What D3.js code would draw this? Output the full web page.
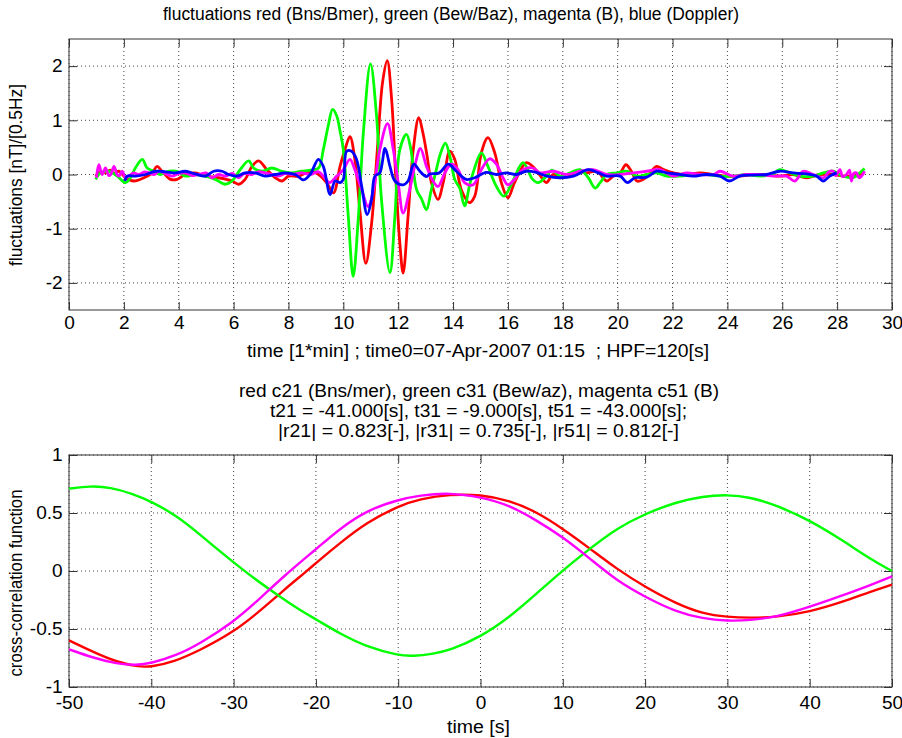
<!DOCTYPE html>
<html>
<head>
<meta charset="utf-8">
<script src="https://cdn.jsdelivr.net/npm/d3@7"></script>
<style>
  body { margin: 0; background: #fff; }
  svg text { font-family: "Liberation Sans", Arial, Helvetica, sans-serif; white-space: pre; }
</style>
</head>
<body>
<script>
// ---- top panel: fluctuations, [time in min, nT/0.5Hz] ----
const fluctRed = [[0.97,-0.03],[1.15,0.05],[1.33,0.03],[1.5,0.08],[1.65,0.02],[1.82,0.06],[2.06,-0.06],[2.36,-0.12],[2.73,-0.06],[3.03,0.03],[3.21,0.15],[3.39,0.06],[3.7,-0.09],[3.94,-0.09],[4.24,0],[4.6,0.03],[4.97,-0.03],[5.45,-0.06],[5.94,-0.12],[6.18,-0.18],[6.42,-0.09],[6.67,0.15],[6.91,0.25],[7.21,0.09],[7.52,-0.06],[7.76,-0.12],[8.0,-0.03],[8.36,-0.03],[8.6,0.02],[8.9,0.05],[9.1,0.0],[9.39,-0.15],[9.64,-0.34],[9.88,0.15],[10.06,0.46],[10.24,0.7],[10.42,0.28],[10.6,-0.65],[10.82,-1.64],[11.03,-0.9],[11.24,0.46],[11.43,1.7],[11.6,2.1],[11.76,1.39],[11.92,-0.15],[12.06,-1.27],[12.18,-1.82],[12.36,-0.77],[12.55,0.46],[12.75,1.05],[12.9,0.77],[13.05,0.35],[13.21,-0.15],[13.45,-0.46],[13.64,-0.15],[13.88,0.43],[14.06,0.28],[14.3,-0.28],[14.6,-0.52],[14.79,-0.4],[15.03,0.4],[15.27,0.68],[15.52,0.4],[15.76,-0.15],[16.0,-0.43],[16.24,-0.15],[16.67,0.22],[16.9,0.15],[17.15,0],[17.4,-0.15],[17.64,0],[17.9,-0.06],[18.15,-0.03],[18.5,0.06],[18.87,0.03],[19.24,0.06],[19.6,-0.12],[19.84,-0.03],[20.09,0.03],[20.3,0.18],[20.5,0.06],[20.7,-0.12],[20.94,-0.09],[21.18,0.03],[21.42,0.15],[21.67,0.09],[22.03,0.03],[22.5,0],[23.0,0.03],[23.5,0],[23.97,-0.03],[24.45,-0.03],[24.94,0],[25.43,0],[25.9,-0.03],[26.4,0],[26.88,-0.06],[27.37,0],[27.85,0],[28.34,-0.03],[28.83,0],[28.95,0.03]];

const fluctGreen = [[0.97,-0.09],[1.15,0.03],[1.45,0.06],[1.76,-0.03],[2.06,-0.15],[2.24,-0.06],[2.42,0.12],[2.67,0.28],[2.85,0.12],[3.09,0.06],[3.33,0],[3.64,0.06],[3.94,0.06],[4.24,-0.03],[4.6,0],[4.97,-0.03],[5.33,-0.09],[5.7,-0.18],[5.94,-0.12],[6.24,0.09],[6.55,0.25],[6.73,0.12],[7.03,0.06],[7.39,0.12],[7.76,0.06],[8.12,0.03],[8.48,0.06],[8.8,0.08],[9.1,0.12],[9.27,0.46],[9.45,0.9],[9.61,1.2],[9.76,1.08],[9.88,0.8],[10.0,0.46],[10.18,-0.77],[10.36,-1.88],[10.55,-0.77],[10.73,0.77],[10.99,2.04],[11.21,1.08],[11.39,-0.46],[11.7,-1.81],[11.88,-0.77],[12.06,0.46],[12.3,0.74],[12.45,0.5],[12.67,-0.28],[12.85,-0.45],[13.03,-0.65],[13.2,-0.3],[13.39,0.09],[13.55,0.4],[13.72,0.58],[13.9,0.3],[14.06,-0.09],[14.24,-0.25],[14.42,-0.58],[14.6,-0.2],[14.73,0.03],[15.03,0.4],[15.27,0.15],[15.58,-0.22],[15.85,-0.4],[16.18,-0.12],[16.55,0.22],[16.9,-0.09],[17.1,-0.15],[17.4,-0.03],[17.6,0.08],[17.9,-0.03],[18.27,0.03],[18.63,0.09],[18.93,-0.06],[19.18,-0.25],[19.36,-0.15],[19.6,0],[19.97,0.03],[20.33,0.06],[20.7,-0.03],[21.06,0],[21.42,0.03],[21.79,-0.03],[22.27,-0.03],[22.76,0],[23.24,0],[23.73,-0.03],[24.2,-0.03],[24.7,0],[25.2,-0.03],[25.67,0.01],[25.9,0.09],[26.28,0.03],[26.64,-0.03],[27.13,-0.03],[27.5,0.03],[27.85,0.06],[28.2,-0.03],[28.58,-0.06],[28.89,0.06],[29.0,0.11]];

const fluctMagenta = [[1.0,-0.06],[1.09,0.18],[1.21,0.0],[1.33,0.12],[1.45,-0.02],[1.52,0.0],[1.64,0.15],[1.75,0.0],[1.82,-0.03],[1.94,0.06],[2.05,-0.05],[2.18,-0.03],[2.35,0.03],[2.55,0],[2.75,0.05],[2.91,0.03],[3.1,0.0],[3.27,0.06],[3.5,0.02],[3.76,-0.03],[4.0,0.02],[4.24,0.03],[4.5,-0.02],[4.73,0],[5.0,0.03],[5.21,-0.06],[5.45,0.0],[5.7,-0.03],[5.95,0.02],[6.18,-0.06],[6.4,0.02],[6.67,0],[6.9,0.05],[7.15,0.03],[7.4,0.0],[7.64,-0.03],[7.9,0.02],[8.12,0],[8.48,0.03],[8.8,0.0],[9.1,0.05],[9.3,-0.05],[9.5,-0.15],[9.76,-0.03],[10.0,0.09],[10.24,0.28],[10.42,0.09],[10.67,-0.28],[10.9,-0.59],[11.1,-0.28],[11.33,0.46],[11.61,0.94],[11.82,0.46],[12.0,-0.15],[12.18,-0.71],[12.42,-0.28],[12.6,0.15],[12.81,0.48],[13.03,0.15],[13.27,-0.12],[13.45,-0.22],[13.7,0.03],[13.94,0.19],[14.18,0.09],[14.42,-0.15],[14.73,-0.19],[15.03,0.09],[15.33,0.29],[15.58,0.19],[15.82,-0.06],[16.0,-0.19],[16.24,-0.09],[16.55,0.09],[16.9,0.12],[17.17,0.03],[17.66,0.06],[18.15,0],[18.63,0.06],[19.1,0.09],[19.6,0],[20.09,0],[20.57,0.03],[21.06,0.06],[21.54,0.09],[22.03,-0.03],[22.5,0.03],[23.0,0],[23.5,0],[23.73,0.06],[24.2,-0.03],[24.7,0],[25.2,0],[25.67,-0.03],[26.15,-0.03],[26.46,-0.12],[26.76,0.06],[27.13,0],[27.5,-0.06],[27.7,0.05],[27.85,0.06],[27.95,-0.02],[28.1,0.09],[28.2,-0.04],[28.34,0],[28.45,0.08],[28.52,-0.12],[28.6,0.02],[28.7,0.03],[28.8,-0.06],[28.89,-0.03],[29.0,0.06]];

const fluctBlue = [[2.04,-0.12],[2.12,-0.03],[2.42,-0.03],[2.79,0],[3.15,0.06],[3.52,0.05],[3.88,0.03],[4.24,0.06],[4.6,0.01],[4.97,-0.03],[5.27,0.06],[5.58,0.06],[5.82,0],[6.12,-0.03],[6.42,0.03],[6.79,0.03],[7.15,-0.03],[7.52,0],[7.88,0.03],[8.24,0],[8.55,-0.1],[8.79,0],[9.09,0.28],[9.27,0.15],[9.52,-0.37],[9.7,-0.12],[9.88,-0.15],[10.0,-0.09],[10.12,0.43],[10.3,0.43],[10.48,0.28],[10.67,-0.22],[10.87,-0.74],[11.03,-0.46],[11.15,-0.03],[11.33,0.03],[11.52,0.48],[11.7,0.15],[11.88,-0.12],[12.18,-0.19],[12.36,-0.12],[12.57,0.19],[12.79,0.06],[13.03,-0.04],[13.15,0.01],[13.5,0.03],[13.82,0.19],[14.12,0.06],[14.48,-0.09],[14.79,-0.06],[15.2,0.04],[15.58,0],[15.94,0.03],[16.3,0],[16.67,0.06],[17.03,0.04],[17.42,-0.03],[17.9,-0.06],[18.39,-0.03],[18.93,0.09],[19.3,0.03],[19.6,-0.03],[20.09,-0.03],[20.35,-0.15],[20.63,-0.06],[21.06,-0.05],[21.42,0.06],[21.79,0.03],[22.27,0],[22.76,-0.03],[23.24,0],[23.73,-0.03],[24.07,-0.12],[24.45,-0.03],[24.94,-0.01],[25.43,0],[25.9,0.06],[26.4,0.03],[26.88,0.01],[27.25,-0.03],[27.5,-0.12],[27.73,-0.03],[27.98,0.03]];

const topXTicks = d3.range(0, 31, 2);
const topYTicks = [-2, -1, 0, 1, 2];

// ---- bottom panel: cross-correlation, [lag s, value] ----
const ccRed = [[-50,-0.598],[-47,-0.70],[-44.2,-0.785],[-41.4,-0.828],[-40,-0.825],[-37.3,-0.785],[-34.1,-0.684],[-30,-0.526],[-26.8,-0.345],[-24,-0.17],[-21.1,0.0],[-19.9,0.075],[-17.1,0.24],[-13.8,0.42],[-10,0.56],[-7.4,0.62],[-3.7,0.661],[0,0.658],[3.56,0.609],[6.8,0.509],[10,0.365],[13.3,0.193],[16.5,0.02],[20,-0.138],[23.8,-0.282],[27,-0.368],[30,-0.397],[32.7,-0.405],[36,-0.397],[40,-0.353],[44,-0.267],[47.3,-0.181],[50,-0.118]];
const ccGreen = [[-50,0.71],[-47.4,0.733],[-45,0.722],[-42.2,0.665],[-40,0.600],[-36.9,0.475],[-34.1,0.315],[-32.1,0.195],[-30,0.075],[-27.6,-0.06],[-24.8,-0.2],[-21.9,-0.34],[-19.9,-0.42],[-17.1,-0.54],[-13.8,-0.655],[-10,-0.727],[-8.2,-0.735],[-5.7,-0.713],[-3.7,-0.684],[0,-0.569],[3.56,-0.397],[6.8,-0.195],[10,0.006],[13.3,0.193],[16.5,0.365],[20,0.494],[23.8,0.595],[27,0.644],[30,0.658],[32.7,0.638],[36,0.566],[40,0.437],[44,0.264],[47.3,0.106],[50,0]];
const ccMagenta = [[-50,-0.675],[-47,-0.75],[-44.2,-0.80],[-41.8,-0.813],[-40,-0.795],[-36.9,-0.727],[-34.1,-0.626],[-30,-0.44],[-26.8,-0.238],[-24,-0.05],[-19.9,0.193],[-17.1,0.365],[-13.8,0.523],[-10,0.615],[-7.4,0.652],[-3.7,0.675],[0,0.638],[3.56,0.566],[6.8,0.437],[10,0.293],[13.3,0.106],[16.5,-0.08],[20,-0.224],[23.8,-0.353],[27,-0.41],[30,-0.431],[32.7,-0.425],[36,-0.397],[40,-0.31],[44,-0.21],[47.3,-0.124],[50,-0.046]];

const botXTicks = d3.range(-50, 51, 10);
const botYTicks = [-1, -0.5, 0, 0.5, 1];

const W = 902, H = 738;
const FONT = 18, STRETCH = 1.06;

const svg = d3.select('body').append('svg')
  .attr('width', W)
  .attr('height', H);

// one subplot: box, grid, ticks, curves
function panel(box, xDom, yDom, xTicks, yTicks, series, lw, padX, curve) {
  let x = d3.scaleLinear().domain(xDom).range([box.l, box.r]);
  let y = d3.scaleLinear().domain(yDom).range([box.b, box.t]);
  let g = svg.append('g');

  // dotted grid
  g.append('g').selectAll('line').data(xTicks).enter().append('line')
    .attr('x1', d => x(d)).attr('x2', d => x(d))
    .attr('y1', box.t).attr('y2', box.b)
    .attr('stroke', '#444').attr('stroke-dasharray', '1,3');
  g.append('g').selectAll('line').data(yTicks).enter().append('line')
    .attr('y1', d => y(d)).attr('y2', d => y(d))
    .attr('x1', box.l).attr('x2', box.r)
    .attr('stroke', '#444').attr('stroke-dasharray', '1,3');

  const fmt = d => String(d);
  let axes = [
    [d3.axisBottom(x).tickValues(xTicks).tickFormat(fmt).tickPadding(padX), `translate(0,${box.b})`],
    [d3.axisTop(x).tickValues(xTicks).tickFormat(''), `translate(0,${box.t})`],
    [d3.axisLeft(y).tickValues(yTicks).tickFormat(fmt).tickPadding(6), `translate(${box.l},0)`],
    [d3.axisRight(y).tickValues(yTicks).tickFormat(''), `translate(${box.r},0)`]
  ];
  axes.forEach(a => {
    let ax = g.append('g')
      .attr('transform', a[1])
      .call(a[0].tickSize(-8))
      .attr('font-size', FONT)
      .attr('font-family', null);
    ax.select('.domain').remove();
    ax.selectAll('line').attr('stroke', '#333');
    ax.selectAll('text').attr('fill', '#000').attr('transform', `scale(${STRETCH},1)`);
  });

  g.append('rect')
    .attr('x', box.l).attr('y', box.t)
    .attr('width', box.r - box.l).attr('height', box.b - box.t)
    .attr('fill', 'none').attr('stroke', '#333');

  let line = d3.line()
    .x(d => x(d[0]))
    .y(d => y(d[1]))
    .curve(curve);

  series.forEach(s => {
    g.append('path')
      .datum(s.data)
      .attr('d', line)
      .attr('fill', 'none')
      .attr('stroke', s.color)
      .attr('stroke-width', lw)
      .attr('stroke-linejoin', 'round');
  });
}

panel({ l: 69, r: 892, t: 39, b: 310 }, [0, 30], [-2.5, 2.5], topXTicks, topYTicks, [
  { data: fluctRed, color: '#ff0000' },
  { data: fluctGreen, color: '#00ff00' },
  { data: fluctMagenta, color: '#ff00ff' },
  { data: fluctBlue, color: '#0000ff' }
], 2.8, 6, d3.curveCatmullRom);

panel({ l: 69, r: 892, t: 455, b: 687 }, [-50, 50], [-1, 1], botXTicks, botYTicks, [
  { data: ccRed, color: '#ff0000' },
  { data: ccGreen, color: '#00ff00' },
  { data: ccMagenta, color: '#ff00ff' }
], 2.4, 9, d3.curveBasis);

// labels
function label(str, cx, cy, len, rot) {
  let t = svg.append('text')
    .attr('font-size', FONT)
    .attr('text-anchor', 'middle')
    .text(str);
  if (len) t.attr('textLength', len).attr('lengthAdjust', 'spacingAndGlyphs');
  if (rot) t.attr('transform', `translate(${cx},${cy}) rotate(-90)`);
  else t.attr('x', cx).attr('y', cy);
  return t;
}

label('fluctuations red (Bns/Bmer), green (Bew/Baz), magenta (B), blue (Doppler)', 451, 20, 576);
label('time [1*min] ; time0=07-Apr-2007 01:15  ; HPF=120[s]', 478, 357, 462);
label('red c21 (Bns/mer), green c31 (Bew/az), magenta c51 (B)', 479, 397, 480);
label('t21 = -41.000[s], t31 = -9.000[s], t51 = -43.000[s];', 478.5, 417, 417);
label('|r21| = 0.823[-], |r31| = 0.735[-], |r51| = 0.812[-]', 478.5, 437, 401);
label('time [s]', 478.5, 733, 63);
label('fluctuations [nT]/[0.5Hz]', 22, 175, 182, true);
label('cross-correlation function', 22, 583, 187, true);
</script>
</body>
</html>
